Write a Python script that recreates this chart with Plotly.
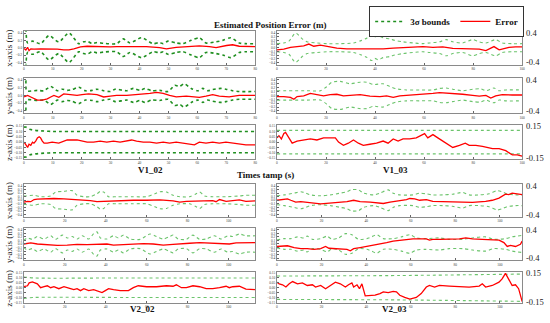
import plotly.graph_objects as go

# ---------------- DATA ----------------
# V1_02  x-axis
v102_x_sig_t = [0, 0.7, 1.3, 3.0, 5.8, 8.7, 12.1, 15.6, 19.0, 20.7, 22.1, 23.6, 25.3, 27.6, 32.1, 34.4, 36.7, 40.7, 44.7, 47.0, 48.2, 49.9, 52.7, 55.0, 57.9, 60.7, 63.0, 66.5, 68.8, 71.6, 74.5, 76.8, 80]
v102_x_sig = [1.0, 0.5, 0.13, 0.18, 0.11, 0.33, 0.16, 0.40, 0.11, 0.16, 0.17, 0.11, 0.14, 0.12, 0.11, 0.24, 0.13, 0.27, 0.11, 0.14, 0.11, 0.18, 0.13, 0.11, 0.20, 0.27, 0.13, 0.16, 0.20, 0.27, 0.13, 0.11, 0.11]
v102_x_err_t = [0.1, 0.7, 1.3, 1.8, 2.4, 3.5, 5.8, 9.3, 11.6, 13.8, 15.6, 17.3, 19.6, 21.9, 24.1, 26.4, 29.9, 32.1, 35.6, 37.9, 42.4, 47.0, 49.3, 52.7, 56.2, 60.7, 64.2, 66.5, 70.1, 72.2, 74.5, 76.8, 80]
v102_x_err = [-0.02, -0.06, 0.01, -0.08, -0.03, -0.04, -0.03, -0.03, -0.04, -0.06, -0.06, -0.03, 0.02, 0.04, 0.03, 0.03, 0.02, 0.03, 0.03, 0.04, 0.03, 0.0, -0.03, 0.01, 0.03, 0.05, 0.03, 0.0, 0.06, 0.08, 0.04, 0.03, 0.03]

# V1_02  y-axis
v102_y_sig_t = [0, 0.7, 1.0, 4.7, 7.0, 9.3, 11.6, 13.3, 15.0, 16.7, 19.0, 21.3, 23.6, 25.3, 27.6, 29.9, 31.6, 35.6, 37.9, 40.2, 41.9, 44.2, 47.0, 49.9, 52.2, 53.9, 55.4, 57.9, 60.2, 61.9, 63.6, 65.3, 68.2, 69.9, 72.2, 74.5, 80]
v102_y_sig = [1.0, 0.4, 0.12, 0.13, 0.12, 0.23, 0.12, 0.16, 0.13, 0.15, 0.21, 0.12, 0.13, 0.16, 0.12, 0.10, 0.16, 0.12, 0.18, 0.13, 0.18, 0.12, 0.13, 0.10, 0.26, 0.23, 0.30, 0.18, 0.12, 0.18, 0.12, 0.15, 0.18, 0.16, 0.12, 0.10, 0.10]
v102_y_err_t = [0.1, 1.3, 2.4, 3.5, 4.7, 6.4, 8.1, 9.3, 10.4, 12.1, 13.8, 16.1, 18.4, 20.1, 22.4, 25.3, 27.6, 29.9, 32.1, 35.6, 40.2, 43.6, 45.9, 48.2, 50.4, 52.7, 56.2, 60.7, 63.0, 65.3, 67.6, 71.0, 74.5, 80]
v102_y_err = [-0.04, 0.0, -0.04, -0.08, -0.12, -0.12, -0.09, -0.04, 0.0, -0.05, 0.04, 0.02, 0.0, 0.02, 0.04, 0.02, -0.04, -0.02, 0.0, 0.0, 0.02, 0.05, 0.08, 0.05, 0.0, -0.04, -0.02, -0.05, -0.02, 0.02, -0.02, -0.04, 0.0, 0.0]

# V1_02  z-axis
v102_z_sig_t = [0, 0.7, 2.0, 4.0, 6.0, 10.0, 40.0, 80]
v102_z_sig = [0.14, 0.14, 0.12, 0.11, 0.105, 0.10, 0.10, 0.10]
v102_z_err_t = [0.1, 0.7, 1.3, 1.8, 2.4, 3.0, 3.5, 4.1, 4.7, 5.3, 5.8, 6.4, 7.0, 8.1, 9.8, 12.1, 13.8, 15.0, 18.4, 20.1, 21.9, 24.1, 26.4, 28.7, 31.0, 33.3, 35.6, 37.3, 39.0, 41.3, 43.6, 45.9, 48.2, 50.4, 52.7, 56.2, 59.0, 60.7, 63.0, 65.3, 67.6, 69.9, 72.2, 74.5, 76.8, 80]
v102_z_err = [0.0, -0.03, -0.05, -0.02, -0.03, 0.0, -0.01, 0.01, 0.04, 0.05, 0.04, 0.01, -0.01, -0.01, 0.0, -0.01, 0.01, 0.02, 0.02, 0.01, 0.0, 0.0, 0.01, 0.0, 0.01, 0.0, 0.01, 0.02, 0.01, 0.0, 0.0, -0.01, 0.0, -0.01, 0.0, -0.015, -0.025, 0.0, -0.01, 0.0, -0.01, 0.0, -0.01, -0.02, -0.025, -0.025]

# V1_03  x-axis
v103_x_sig_t = [0, 2.8, 4.9, 7.6, 10.3, 12.3, 16.3, 20.4, 25.8, 31.2, 34.5, 36.6, 38.6, 39.9, 41.3, 43.3, 46.0, 48.0, 51.4, 55.5, 59.5, 62.2, 66.3, 69.0, 71.7, 75.7, 79.8, 82.5, 85.2, 89.2, 91.9, 96.0, 100]
v103_x_sig = [0.11, 0.13, 0.18, 0.40, 0.24, 0.16, 0.13, 0.11, 0.11, 0.13, 0.20, 0.26, 0.35, 0.29, 0.33, 0.27, 0.24, 0.20, 0.16, 0.13, 0.11, 0.13, 0.16, 0.22, 0.16, 0.13, 0.22, 0.16, 0.13, 0.22, 0.13, 0.11, 0.11]
v103_x_err_t = [0, 2.8, 5.5, 8.2, 10.9, 13.0, 15.0, 17.7, 20.4, 24.4, 28.5, 33.9, 37.9, 40.6, 43.3, 47.4, 51.4, 55.5, 59.5, 63.6, 67.6, 71.7, 75.7, 79.8, 82.5, 85.2, 87.2, 88.5, 90.6, 92.6, 94.6, 97.3, 100]
v103_x_err = [-0.06, -0.04, 0.01, 0.03, 0.05, 0.10, 0.04, 0.07, 0.03, -0.01, -0.03, -0.03, -0.02, -0.04, -0.03, -0.01, 0.01, 0.02, 0.03, 0.01, 0.02, -0.02, -0.02, -0.03, -0.04, -0.08, -0.02, 0.03, -0.06, -0.03, 0.01, 0.02, 0.02]

# V1_03  y-axis
v103_y_sig_t = [0, 12.3, 17.7, 20.4, 22.4, 25.8, 29.8, 33.9, 36.6, 39.3, 43.3, 46.0, 48.7, 52.8, 58.2, 63.6, 66.3, 69.0, 71.7, 75.7, 79.8, 83.1, 85.2, 88.5, 90.6, 93.3, 100]
v103_y_sig = [0.12, 0.12, 0.12, 0.23, 0.34, 0.36, 0.30, 0.34, 0.34, 0.28, 0.30, 0.23, 0.17, 0.14, 0.14, 0.14, 0.18, 0.19, 0.16, 0.12, 0.16, 0.17, 0.12, 0.19, 0.12, 0.14, 0.14]
v103_y_err_t = [0, 2.8, 5.5, 6.9, 8.2, 10.9, 13.6, 16.3, 19.0, 21.7, 24.4, 27.1, 29.8, 33.9, 37.9, 42.0, 44.7, 47.4, 50.1, 52.8, 56.8, 60.9, 63.6, 66.3, 69.0, 71.7, 75.7, 79.8, 82.5, 85.2, 87.2, 89.2, 91.9, 96.0, 100]
v103_y_err = [-0.03, -0.03, -0.05, -0.10, -0.03, -0.01, 0.05, 0.02, -0.01, 0.02, 0.03, -0.01, 0.0, 0.02, -0.02, -0.03, -0.01, -0.05, -0.01, 0.0, 0.02, 0.03, 0.05, 0.07, 0.06, 0.05, 0.03, 0.0, -0.02, 0.0, -0.07, -0.01, 0.02, 0.01, 0.01]

# V1_03  z-axis
v103_z_sig_t = [0, 50, 100]
v103_z_sig = [0.11, 0.11, 0.11]
v103_z_err_t = [0, 0.8, 1.8, 2.8, 3.5, 4.9, 6.2, 8.2, 10.9, 13.6, 16.3, 19.0, 22.4, 23.8, 25.1, 27.1, 29.1, 31.2, 33.2, 35.2, 37.9, 40.6, 43.3, 45.3, 47.4, 49.4, 51.4, 54.1, 56.8, 58.8, 60.2, 61.5, 63.6, 65.6, 67.6, 69.6, 71.7, 74.4, 76.8, 78.4, 81.1, 83.8, 87.9, 90.6, 93.3, 96.0, 98.0, 100]
v103_z_err = [0.04, 0.06, 0.03, 0.08, 0.09, 0.04, -0.01, 0.01, 0.02, 0.03, 0.02, 0.04, 0.04, 0.04, 0.0, -0.03, -0.01, 0.02, -0.01, -0.03, -0.02, -0.01, 0.01, -0.01, 0.03, 0.01, 0.03, 0.03, 0.04, 0.06, 0.08, 0.04, 0.07, 0.04, 0.01, -0.02, -0.05, -0.03, -0.01, -0.03, -0.03, -0.04, -0.06, -0.06, -0.08, -0.12, -0.12, -0.13]

# V2_02  x-axis
v202_x_sig_t = [0, 1.0, 5.0, 8.2, 13.1, 15.5, 19.6, 23.6, 26.0, 29.3, 32.5, 35.7, 37.4, 39.0, 41.4, 45.4, 53.5, 60.0, 64.0, 66.5, 69.7, 72.9, 76.2, 81.0, 84.2, 85.9, 88.3, 92.3, 98.8, 105.3, 108.5, 113]
v202_x_sig = [0.12, 0.12, 0.14, 0.10, 0.12, 0.23, 0.25, 0.27, 0.14, 0.10, 0.10, 0.18, 0.25, 0.23, 0.10, 0.10, 0.10, 0.10, 0.18, 0.24, 0.23, 0.14, 0.10, 0.10, 0.18, 0.23, 0.12, 0.10, 0.10, 0.12, 0.14, 0.14]
v202_x_err_t = [0, 1.8, 3.4, 5.0, 6.6, 9.9, 14.7, 19.6, 23.6, 27.7, 32.5, 35.7, 39.0, 42.2, 47.1, 53.5, 60.0, 66.5, 72.9, 76.2, 79.4, 85.9, 92.3, 93.9, 95.6, 98.8, 102.0, 105.3, 108.5, 113]
v202_x_err = [-0.05, -0.03, -0.04, 0.02, 0.03, 0.04, 0.05, 0.04, 0.03, 0.02, -0.01, -0.04, -0.03, -0.02, -0.01, 0.0, 0.0, 0.01, -0.02, -0.05, -0.03, -0.02, -0.01, -0.04, 0.02, -0.03, -0.01, 0.01, -0.03, -0.02]

# V2_02  y-axis
v202_y_sig_t = [0, 1.8, 4.2, 6.6, 9.9, 13.1, 15.5, 18.8, 21.2, 23.6, 26.0, 28.5, 31.7, 34.1, 35.7, 37.4, 40.6, 43.8, 46.2, 48.7, 51.9, 56.8, 61.6, 64.8, 68.1, 71.3, 72.9, 75.4, 79.4, 82.6, 85.9, 89.1, 93.1, 96.4, 99.6, 102.0, 105.3, 108.5, 113]
v202_y_sig = [0.10, 0.17, 0.13, 0.21, 0.14, 0.23, 0.13, 0.25, 0.17, 0.21, 0.14, 0.23, 0.14, 0.29, 0.34, 0.17, 0.14, 0.23, 0.17, 0.25, 0.14, 0.13, 0.28, 0.21, 0.14, 0.21, 0.25, 0.14, 0.13, 0.25, 0.13, 0.14, 0.23, 0.14, 0.23, 0.21, 0.28, 0.23, 0.23]
v202_y_err_t = [0, 3.4, 6.6, 11.5, 16.3, 21.2, 26.0, 30.9, 35.7, 40.6, 43.8, 48.7, 53.5, 58.4, 63.2, 68.1, 72.9, 76.2, 81.0, 85.9, 90.7, 95.6, 100.4, 103.7, 108.5, 113]
v202_y_err = [0.0, 0.03, 0.0, -0.03, -0.04, -0.03, -0.01, -0.02, -0.01, 0.0, -0.03, -0.01, 0.0, 0.01, 0.0, -0.03, -0.01, 0.01, 0.02, 0.04, 0.03, 0.0, 0.0, 0.03, 0.03, 0.04]

# V2_02  z-axis
v202_z_sig_t = [0, 5, 50, 113]
v202_z_sig = [0.11, 0.10, 0.10, 0.10]
v202_z_err_t = [0, 1.0, 1.8, 2.6, 4.2, 6.6, 8.2, 9.9, 11.5, 13.1, 14.7, 17.1, 19.6, 22.8, 24.4, 26.0, 27.7, 29.3, 31.7, 34.1, 36.5, 38.2, 39.8, 41.4, 43.8, 47.1, 51.1, 53.5, 55.9, 60.0, 64.8, 69.7, 72.9, 74.5, 77.0, 79.4, 82.6, 85.9, 89.1, 92.3, 95.6, 98.8, 100.4, 102.0, 105.3, 108.5, 113]
v202_z_err = [0.01, 0.02, 0.02, 0.05, 0.06, 0.04, 0.0, 0.01, 0.02, 0.0, 0.01, -0.01, 0.01, -0.01, -0.02, -0.01, -0.03, -0.01, -0.03, -0.02, -0.04, -0.05, -0.03, -0.01, -0.02, -0.03, -0.03, 0.0, 0.02, 0.01, 0.01, 0.02, 0.015, 0.03, 0.0, 0.0, 0.02, 0.01, -0.01, -0.01, 0.0, 0.015, 0.0, 0.01, 0.015, -0.015, -0.02]

# V2_03  x-axis
v203_x_sig_t = [0, 3.3, 7.7, 10.7, 12.9, 15.1, 19.6, 24.0, 28.4, 31.4, 33.6, 36.6, 38.8, 43.3, 46.2, 49.9, 52.1, 55.1, 61.0, 64.0, 67.0, 69.9, 74.4, 78.8, 83.3, 86.2, 90.7, 95.1, 98.8, 101.0, 103.3, 107.0, 110]
v203_x_sig = [0.125, 0.15, 0.20, 0.24, 0.20, 0.15, 0.125, 0.15, 0.20, 0.24, 0.30, 0.29, 0.20, 0.15, 0.20, 0.29, 0.20, 0.15, 0.15, 0.20, 0.18, 0.15, 0.15, 0.17, 0.22, 0.15, 0.15, 0.18, 0.27, 0.24, 0.18, 0.15, 0.15]
v203_x_err_t = [0, 1.8, 4.7, 6.2, 8.4, 10.7, 13.6, 16.6, 19.6, 22.5, 25.5, 28.4, 31.4, 34.4, 37.3, 41.8, 44.7, 47.7, 50.7, 53.6, 58.1, 59.6, 61.8, 64.0, 67.0, 69.9, 75.9, 81.8, 87.7, 93.6, 96.6, 99.6, 102.5, 104.0, 105.5, 107.7, 110]
v203_x_err = [0.0, 0.02, 0.04, 0.0, -0.05, -0.04, -0.07, -0.08, -0.10, -0.09, -0.07, -0.07, -0.04, 0.0, -0.04, -0.05, -0.07, -0.09, -0.05, -0.03, 0.02, 0.05, 0.04, 0.0, 0.02, -0.03, -0.04, -0.05, -0.06, -0.03, 0.0, 0.06, 0.17, 0.16, 0.20, 0.18, 0.16]

# V2_03  y-axis
v203_y_sig_t = [0, 3.3, 6.2, 9.2, 12.1, 13.6, 15.9, 19.6, 22.5, 24.7, 27.7, 30.7, 33.6, 36.6, 40.3, 42.5, 44.7, 47.7, 52.1, 55.9, 59.6, 62.5, 66.9, 72.9, 77.3, 83.3, 87.7, 93.6, 97.3, 102.5, 105.5, 110]
v203_y_sig = [0.11, 0.15, 0.15, 0.20, 0.17, 0.22, 0.13, 0.15, 0.22, 0.13, 0.17, 0.29, 0.26, 0.13, 0.15, 0.20, 0.26, 0.15, 0.15, 0.20, 0.26, 0.17, 0.15, 0.17, 0.13, 0.13, 0.17, 0.20, 0.13, 0.15, 0.20, 0.24]
v203_y_err_t = [0, 2.5, 4.7, 7.7, 10.7, 13.6, 16.6, 19.6, 21.8, 23.3, 25.5, 28.4, 31.4, 32.9, 34.4, 37.3, 40.3, 43.3, 46.2, 49.2, 52.1, 55.1, 58.1, 61.0, 64.0, 67.0, 68.4, 69.9, 72.9, 77.3, 81.8, 84.7, 87.7, 92.1, 96.6, 99.6, 101.8, 103.3, 104.7, 107.0, 109.2, 110]
v203_y_err = [-0.07, -0.07, -0.05, -0.10, -0.13, -0.13, -0.15, -0.13, -0.07, -0.12, -0.13, -0.13, -0.15, -0.19, -0.13, -0.10, -0.07, -0.04, -0.01, 0.04, 0.08, 0.10, 0.13, 0.145, 0.145, 0.145, 0.11, 0.13, 0.13, 0.13, 0.145, 0.17, 0.145, 0.13, 0.13, 0.11, 0.04, -0.07, -0.04, -0.07, -0.01, 0.08]

# V2_03  z-axis
v203_z_sig_t = [0, 55, 110]
v203_z_sig = [0.12, 0.125, 0.14]
v203_z_err_t = [0, 1.0, 2.5, 4.0, 5.5, 7.0, 9.2, 11.4, 13.6, 15.9, 17.3, 19.6, 21.8, 24.0, 26.2, 28.4, 30.7, 32.1, 33.6, 34.4, 35.9, 37.0, 38.1, 39.6, 41.8, 44.0, 46.2, 47.7, 49.9, 52.1, 53.6, 55.1, 57.3, 59.6, 62.5, 64.7, 67.0, 68.4, 70.7, 72.9, 77.3, 81.8, 86.2, 90.7, 92.1, 93.6, 96.6, 99.6, 101.0, 102.5, 104.0, 105.5, 107.0, 108.4, 110]
v203_z_err = [0.057, 0.04, 0.03, 0.007, 0.04, 0.063, 0.04, 0.05, 0.023, 0.03, 0.007, 0.023, -0.01, 0.023, 0.057, 0.04, 0.007, 0.03, 0.05, 0.007, 0.03, -0.01, 0.04, -0.083, -0.077, -0.077, -0.06, -0.043, -0.05, -0.037, -0.043, -0.077, -0.10, -0.117, -0.10, -0.06, 0.007, 0.023, 0.007, 0.023, 0.017, 0.013, 0.007, 0.017, 0.04, 0.007, 0.023, 0.057, 0.09, 0.147, 0.09, 0.023, 0.03, -0.01, -0.143]

# tick labels of the right-hand axes
xy_side_ticks = ["0.4", "-0.4"]
z_side_ticks = ["0.15", "-0.15"]
run_labels = ["V1_02", "V1_03", "V2_02", "V2_03"]
axis_titles = ["x-axis (m)", "y-axis (m)", "z-axis (m)"]

# ---------------- FIGURE ----------------
SERIF = "Liberation Serif, Times New Roman, serif"
W, H = 550, 323

def px_x(p):
    return p / W

def px_y(p):
    return 1 - p / H

col_x = [(23, 256), (278, 525)]
row_y = [(30, 64), (77, 113), (125, 159), (184, 217), (228, 261), (273, 304)]

panels = [
    # (row, col, sig_t, sig, err_t, err, xmax, kind, dark)
    (0, 0, v102_x_sig_t, v102_x_sig, v102_x_err_t, v102_x_err, 80, "xy", True),
    (1, 0, v102_y_sig_t, v102_y_sig, v102_y_err_t, v102_y_err, 80, "xy", True),
    (2, 0, v102_z_sig_t, v102_z_sig, v102_z_err_t, v102_z_err, 80, "z", True),
    (0, 1, v103_x_sig_t, v103_x_sig, v103_x_err_t, v103_x_err, 100, "xy", False),
    (1, 1, v103_y_sig_t, v103_y_sig, v103_y_err_t, v103_y_err, 100, "xy", False),
    (2, 1, v103_z_sig_t, v103_z_sig, v103_z_err_t, v103_z_err, 100, "z", False),
    (3, 0, v202_x_sig_t, v202_x_sig, v202_x_err_t, v202_x_err, 113, "xy", False),
    (4, 0, v202_y_sig_t, v202_y_sig, v202_y_err_t, v202_y_err, 113, "xy", False),
    (5, 0, v202_z_sig_t, v202_z_sig, v202_z_err_t, v202_z_err, 113, "z", False),
    (3, 1, v203_x_sig_t, v203_x_sig, v203_x_err_t, v203_x_err, 110, "xy", False),
    (4, 1, v203_y_sig_t, v203_y_sig, v203_y_err_t, v203_y_err, 110, "xy", False),
    (5, 1, v203_z_sig_t, v203_z_sig, v203_z_err_t, v203_z_err, 110, "z", False),
]

fig = go.Figure()
annotations = []
layout_axes = {}

for i, (r, c, st, s, et, e, xmax, kind, dark) in enumerate(panels):
    n = i + 1
    xa = "x" if n == 1 else f"x{n}"
    ya = "y" if n == 1 else f"y{n}"
    gcol = "#1f8f1f" if dark else "#6cc46c"
    gw = 1.6 if dark else 1.1
    first = (i == 0)
    fig.add_trace(go.Scatter(x=st, y=s, xaxis=xa, yaxis=ya, mode="lines",
                             line=dict(color=gcol, width=gw, dash="dot", shape="spline", smoothing=0.7),
                             name="<b>3σ bounds</b>", showlegend=first, legendrank=1))
    fig.add_trace(go.Scatter(x=st, y=[-v for v in s], xaxis=xa, yaxis=ya, mode="lines",
                             line=dict(color=gcol, width=gw, dash="dot", shape="spline", smoothing=0.7),
                             showlegend=False, hoverinfo="skip"))
    fig.add_trace(go.Scatter(x=et, y=e, xaxis=xa, yaxis=ya, mode="lines",
                             line=dict(color="#ff0000", width=1.3),
                             name="<b>Error</b>", showlegend=first, legendrank=2))

    x0, x1 = col_x[c]
    y0, y1 = row_y[r]
    if kind == "xy":
        yr = [-0.46, 0.46]
        dt = 0.2 if dark else 0.1
    else:
        yr = [-0.158, 0.158]
        dt = 0.05
    xdt = 10 if xmax == 80 else 20
    key_x = "xaxis" if n == 1 else f"xaxis{n}"
    key_y = "yaxis" if n == 1 else f"yaxis{n}"
    layout_axes[key_x] = dict(domain=[px_x(x0), px_x(x1)], anchor=ya, range=[0, xmax],
                              showline=True, mirror=True, linecolor="#8a8a8a", linewidth=1,
                              showgrid=False, zeroline=False, ticks="inside", ticklen=2,
                              tickcolor="#666", dtick=xdt, tickfont=dict(size=3.5, color="#444", family=SERIF))
    layout_axes[key_y] = dict(domain=[px_y(y1), px_y(y0)], anchor=xa, range=yr,
                              showline=True, mirror=True, linecolor="#8a8a8a", linewidth=1,
                              showgrid=False, zeroline=False, ticks="inside", ticklen=2,
                              tickcolor="#666", dtick=dt, tickformat=".2f" if kind == "z" else ".1f",
                              tickfont=dict(size=3.5, color="#444", family=SERIF))
    if c == 1:
        labels = xy_side_ticks if kind == "xy" else z_side_ticks
        vals = [0.4, -0.4] if kind == "xy" else [0.15, -0.15]
        for lab, v in zip(labels, vals):
            annotations.append(dict(text=lab, x=px_x(527), xref="paper", xanchor="left",
                                    y=v, yref=ya, yanchor="middle", showarrow=False,
                                    font=dict(family=SERIF, size=8.5, color="#222")))
    else:
        annotations.append(dict(text=axis_titles[r % 3], x=px_x(8), xref="paper", xanchor="center",
                                y=(px_y(y0) + px_y(y1)) / 2, yref="paper", yanchor="middle",
                                textangle=-90, showarrow=False,
                                font=dict(family=SERIF, size=9, color="#222")))

# run labels and common titles
for lab, (cx, cy) in zip(run_labels, [(136, 170), (412, 170), (128, 317), (411, 317)]):
    annotations.append(dict(text=f"<b>{lab}</b>", x=px_x(cx), y=px_y(cy), xref="paper", yref="paper",
                            showarrow=False, font=dict(family=SERIF, size=9, color="#111")))
annotations.append(dict(text="<b>Times tamp (s)</b>", x=px_x(266), y=px_y(175), xref="paper", yref="paper",
                        showarrow=False, font=dict(family=SERIF, size=9, color="#111")))
annotations.append(dict(text="<b>Estimated Position Error (m)</b>", x=px_x(271), y=px_y(17), xref="paper",
                        yref="paper", showarrow=False, font=dict(family=SERIF, size=9, color="#111")))

fig.update_layout(
    width=W, height=H, margin=dict(l=0, r=0, t=0, b=0),
    paper_bgcolor="white", plot_bgcolor="white",
    annotations=annotations,
    legend=dict(orientation="h", x=px_x(527), xanchor="right", y=px_y(5), yanchor="top",
                bordercolor="#333", borderwidth=1, bgcolor="white",
                font=dict(family=SERIF, size=9, color="#111"), tracegroupgap=0,
                itemwidth=30),
    **layout_axes,
)

fig.write_html("out.html", config={"displayModeBar": False},
               post_script="document.body.style.margin='0';document.body.style.overflow='hidden';")
